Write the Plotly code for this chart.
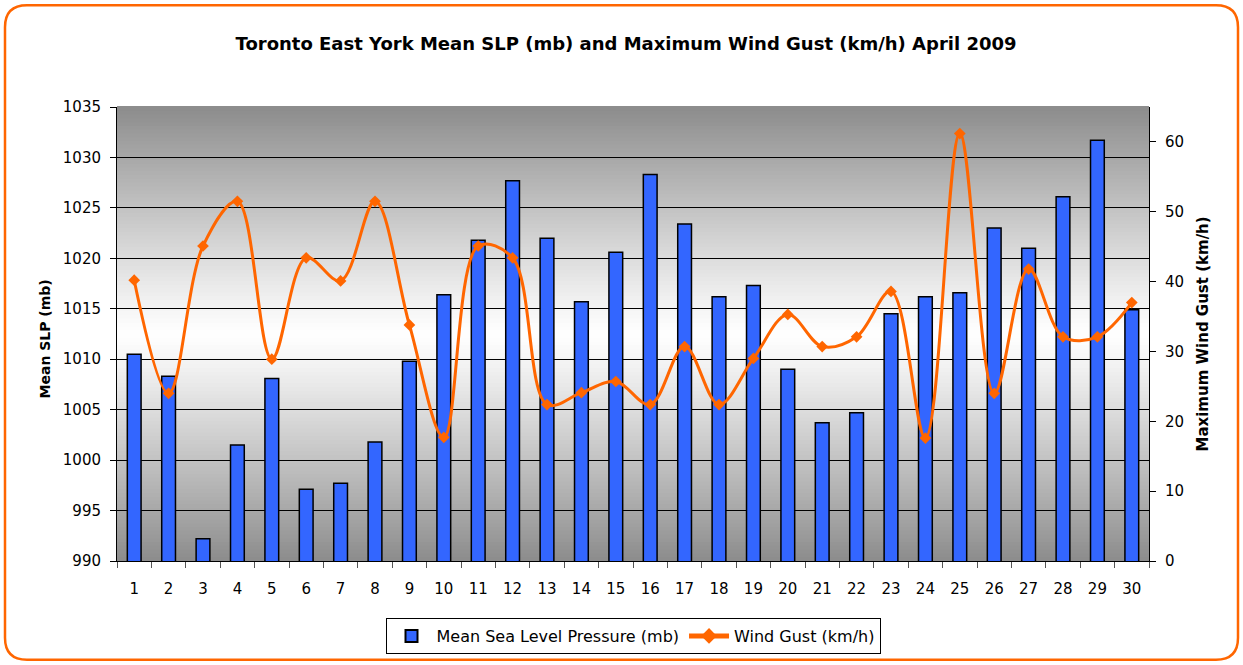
import plotly.graph_objects as go

days = [str(d) for d in range(1, 31)]
slp = [1010.5, 1008.3, 992.2, 1001.5, 1008.1, 997.1, 997.7, 1001.8, 1009.8, 1016.4,
       1021.8, 1027.7, 1022.0, 1015.7, 1020.6, 1028.3, 1023.4, 1016.2, 1017.3, 1009.0,
       1003.7, 1004.7, 1014.5, 1016.2, 1016.6, 1023.0, 1021.0, 1026.1, 1031.7, 1014.9]
gust = [40.2, 24.0, 45.1, 51.5, 28.9, 43.4, 40.1, 51.5, 33.8, 17.7,
        45.1, 43.4, 22.4, 24.1, 25.7, 22.4, 30.7, 22.4, 29.0, 35.3,
        30.7, 32.1, 38.6, 17.6, 61.2, 24.0, 41.8, 32.1, 32.1, 37.0]
slp_ticks = list(range(990, 1036, 5))
gust_ticks = list(range(0, 61, 10))

W, H = 1243, 665
L, R, T, B = 117, 1149, 107, 562
pw, ph = R - L, B - T

FONT = "DejaVu Sans"
ORANGE = "#FF6600"

def px_x(p):
    return (p - L) / pw

def px_y(p):
    return (B - p) / ph

fig = go.Figure()
fig.add_trace(go.Bar(
    x=days, y=slp, name="Mean Sea Level Pressure (mb)",
    marker=dict(color="#3366FF", line=dict(color="black", width=1.5)),
    yaxis="y",
))
fig.add_trace(go.Scatter(
    x=days, y=gust, name="Wind Gust (km/h)", yaxis="y2",
    mode="lines+markers",
    line=dict(color=ORANGE, width=3, shape="spline", smoothing=1),
    marker=dict(symbol="diamond", size=9, color=ORANGE),
))

shapes = []
# gradient background: gray at edges, white at the middle
N = 120
edge = 140
for i in range(N):
    y0 = i / N
    y1 = (i + 1) / N
    mid = (y0 + y1) / 2
    t = abs(mid - 0.5) / 0.5
    v = round(255 - (255 - edge) * (t ** 1.1))
    shapes.append(dict(type="rect", xref="paper", yref="paper", x0=0, x1=1,
                       y0=y0, y1=y1 + 0.002, layer="below",
                       fillcolor=f"rgb({v},{v},{v})", line=dict(width=0)))

# rounded orange chart border
x0, x1 = px_x(5), px_x(1238)
y0, y1 = px_y(661), px_y(5)
rx, ry = 22 / pw, 22 / ph
path = (f"M {x0+rx},{y1} L {x1-rx},{y1} Q {x1},{y1} {x1},{y1-ry} "
        f"L {x1},{y0+ry} Q {x1},{y0} {x1-rx},{y0} L {x0+rx},{y0} "
        f"Q {x0},{y0} {x0},{y0+ry} L {x0},{y1-ry} Q {x0},{y1} {x0+rx},{y1} Z")
shapes.append(dict(type="path", xref="paper", yref="paper", path=path,
                   line=dict(color=ORANGE, width=2.5), layer="above"))

fig.update_layout(
    width=W, height=H,
    margin=dict(l=L, r=W - R, t=T, b=H - B),
    paper_bgcolor="white", plot_bgcolor="white",
    font=dict(family=FONT, size=15, color="black"),
    title=dict(text="<b>Toronto East York Mean SLP (mb) and Maximum Wind Gust (km/h) April 2009</b>",
               x=626 / W, xanchor="center", y=1 - 44 / H, yanchor="middle",
               font=dict(family=FONT, size=18, color="black")),
    bargap=0.6,
    showlegend=True,
    legend=dict(orientation="h", x=0.5, xanchor="center", y=px_y(636), yanchor="middle",
                bordercolor="black", borderwidth=1, bgcolor="white",
                font=dict(size=16), itemsizing="constant", itemwidth=40),
    xaxis=dict(type="category", range=[-0.5, 29.5], showline=True, linecolor="black",
               linewidth=1, ticks="outside", tickson="boundaries", ticklen=6,
               tickcolor="#555", showgrid=False, ticklabelstandoff=14),
    yaxis=dict(range=[990, 1035], tickvals=slp_ticks, showline=True, linecolor="black",
               linewidth=1, ticks="outside", ticklen=6, tickcolor="black",
               showgrid=True, gridcolor="black", gridwidth=1, zeroline=False,
               ticklabelstandoff=6),
    yaxis2=dict(range=[0, 65], tickvals=gust_ticks, overlaying="y", side="right",
                showline=True, linecolor="black", linewidth=1, ticks="outside",
                ticklen=6, tickcolor="black", showgrid=False, zeroline=False,
                ticklabelstandoff=6),
    shapes=shapes,
    annotations=[
        dict(text="<b>Mean SLP (mb)</b>", textangle=-90, xref="paper", yref="paper",
             x=px_x(45), y=px_y(340), showarrow=False, xanchor="center", yanchor="middle",
             font=dict(size=14)),
        dict(text="<b>Maximum Wind Gust (km/h)</b>", textangle=-90, xref="paper", yref="paper",
             x=px_x(1203), y=px_y(335), showarrow=False, xanchor="center", yanchor="middle",
             font=dict(size=15)),
    ],
)

fig.write_html("out.html", config={"displayModeBar": False},
               post_script="document.body.style.margin='0';")
